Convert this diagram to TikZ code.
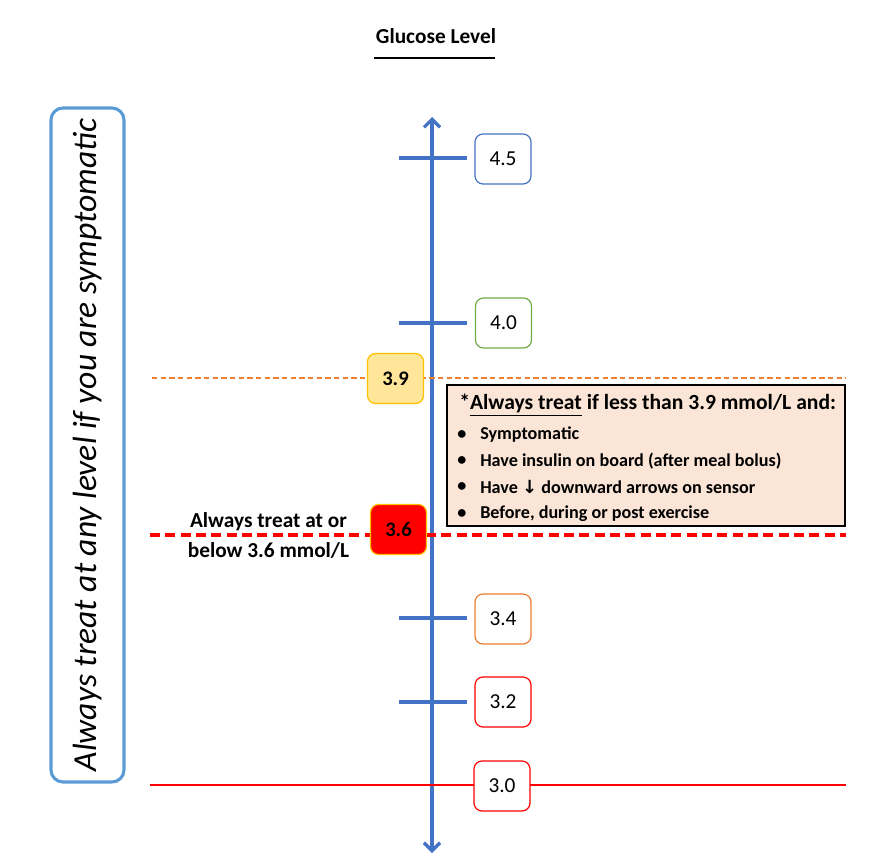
\documentclass[tikz,border=0pt]{standalone}
\usepackage{fontspec}
\setmainfont{Carlito}
\newfontfamily\symfont{DejaVu Sans}
\usetikzlibrary{arrows.meta}
\definecolor{axisblue}{HTML}{4472C4}
\definecolor{lightblue}{HTML}{5B9BD5}
\definecolor{okgreen}{HTML}{70AD47}
\definecolor{warnorange}{HTML}{ED7D31}
\definecolor{goldline}{HTML}{FFC000}
\definecolor{goldfill}{HTML}{FFE699}
\definecolor{peach}{HTML}{FBE5D6}
\definecolor{alertred}{HTML}{FF0000}
\tikzset{
  valbox/.style={draw, line width=0.9pt, rounded corners=6pt, fill=white,
    minimum width=42pt, minimum height=37.5pt, inner sep=0pt,
    font=\fontsize{16}{19}\selectfont},
  tick/.style={draw=axisblue, line width=2.4pt},
  bodytext/.style={anchor=west, inner sep=0pt, font=\bfseries\fontsize{13.6}{16}\selectfont},
}
\begin{document}
\begin{tikzpicture}[x=0.75pt,y=-0.75pt]
\useasboundingbox (0,0) rectangle (878,866);

% title
\node (title) at (436,36) {\bfseries\fontsize{16}{19}\selectfont Glucose Level};
\coordinate (ulA) at (374,58);
\coordinate (ulB) at (495,58);
\draw[line width=0.8pt] (ulA) -- (ulB);

% left rotated box
\node (sidebox) [draw=lightblue, line width=2.3pt, rounded corners=9pt,
  minimum width=505.5pt, minimum height=54.75pt, rotate=90,
  font=\itshape\fontsize{25.2}{30}\selectfont] at (87.5,445)
  {\raisebox{-1.5pt}{Always treat at any level if you are symptomatic}\hspace{7pt}};

% axis
\coordinate (axTop) at (432,117);
\coordinate (axBot) at (432,853);

% ticks
\coordinate (t45a) at (399,158); \coordinate (t45b) at (467,158);
\coordinate (t40a) at (399,323); \coordinate (t40b) at (467,323);
\coordinate (t34a) at (399,618); \coordinate (t34b) at (467,618);
\coordinate (t32a) at (399,702); \coordinate (t32b) at (467,702);
\draw[tick] (t45a) -- (t45b);
\draw[tick] (t40a) -- (t40b);
\draw[tick] (t34a) -- (t34b);
\draw[tick] (t32a) -- (t32b);

\draw[draw=axisblue, line width=2.4pt,
  {Straight Barb[length=6pt,width=12pt,line width=2.4pt]}-{Straight Barb[length=6pt,width=12pt,line width=2.4pt]}]
  (axTop) -- (axBot);

% horizontal threshold lines
\coordinate (l39a) at (152,378); \coordinate (l39b) at (846,378);
\coordinate (l36a) at (150,535); \coordinate (l36b) at (846,535);
\coordinate (l30a) at (150,785); \coordinate (l30b) at (846,785);
\draw[warnorange, line width=1.1pt, dash pattern=on 4pt off 2.5pt] (l39a) -- (l39b);
\draw[alertred, line width=2.6pt, dash pattern=on 7.5pt off 4pt] (l36a) -- (l36b);
\draw[alertred, line width=2.2pt] (l30a) -- (l30b);

% value boxes
\node (v45) [valbox, draw=axisblue] at (503,159) {4.5};
\node (v40) [valbox, draw=okgreen] at (503.5,323) {4.0};
\node (v34) [valbox, draw=warnorange] at (503,619) {3.4};
\node (v32) [valbox, draw=alertred] at (503,702) {3.2};
\node (v30) [valbox, draw=alertred] at (502,786) {3.0};
\node (v39) [valbox, draw=goldline, fill=goldfill, font=\bfseries\fontsize{15.5}{18}\selectfont] at (395.5,378.5) {3.9};
\node (v36) [valbox, draw=goldline, fill=alertred, font=\bfseries\fontsize{15.5}{18}\selectfont] at (398.5,529.5) {3.6};

% label for 3.6
\node (lbl36) [align=center, font=\bfseries\fontsize{16}{22.5}\selectfont] at (268.5,535)
  {Always treat at or\\below 3.6 mmol/L};

% info box
\node (info) [draw=black, line width=0.8pt, fill=peach, minimum width=298.5pt,
  minimum height=105.75pt, inner sep=0pt] at (646,455.5) {};
\node (head) [anchor=west, inner sep=0pt, font=\bfseries\fontsize{16.2}{19}\selectfont] at (459,405)
  {*\underline{Always treat} if less than 3.9 mmol/L and:};
\node (b1dot) [bodytext] at (457,435) {\textbullet};
\node (b2dot) [bodytext] at (457,461) {\textbullet};
\node (b3dot) [bodytext] at (457,487) {\textbullet};
\node (b4dot) [bodytext] at (457,514) {\textbullet};
\node (b1) [bodytext] at (480,435) {Symptomatic};
\node (b2) [bodytext] at (480,461) {Have insulin on board (after meal bolus)};
\node (b3) [bodytext] at (480,487) {Have {\symfont\bfseries ↓} downward arrows on sensor};
\node (b4) [bodytext] at (480,514) {Before, during or post exercise};
\end{tikzpicture}
\end{document}
